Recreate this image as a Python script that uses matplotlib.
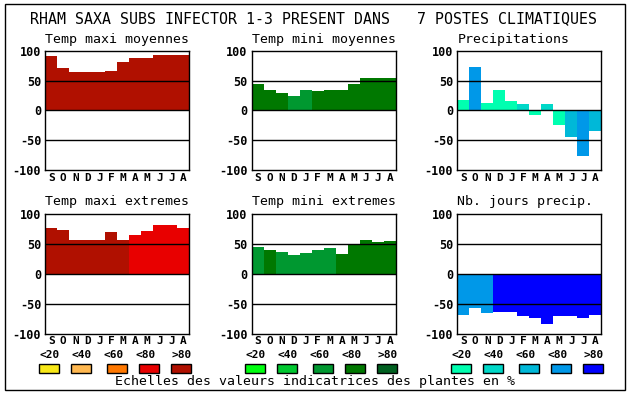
import matplotlib
matplotlib.use("Agg")
import matplotlib.pyplot as plt
from matplotlib.patches import Rectangle

W, H = 630, 394
FONT = "DejaVu Sans Mono"

title = "RHAM SAXA SUBS INFECTOR 1-3 PRESENT DANS   7 POSTES CLIMATIQUES"
months = ["S", "O", "N", "D", "J", "F", "M", "A", "M", "J", "J", "A"]
yticks = [100, 50, 0, -50, -100]
class_labels = ["<20", "<40", "<60", "<80", ">80"]
footer = "Echelles des valeurs indicatrices des plantes en %"

red_scale = ['#F8E818', '#FFB850', '#FF7800', '#E80000', '#B01000']
green_scale = ['#00FF10', '#00C830', '#009830', '#007800', '#006020']
blue_scale = ['#00FFB0', '#00D8C8', '#00B8D8', '#0098E8', '#0000FF']

# panel titles
titles = ["Temp maxi moyennes", "Temp mini moyennes", "Precipitations",
          "Temp maxi extremes", "Temp mini extremes", "Nb. jours precip."]

# values
tmax_moy = [91, 71, 65, 65, 65, 66, 81, 88, 88, 93, 93, 93]
tmax_moy_cls = [4] * 12
tmin_moy = [45, 35, 30, 25, 34, 32, 34, 35, 45, 54, 54, 54]
tmin_moy_cls = [3, 3, 3, 2, 2, 3, 3, 3, 3, 3, 3, 3]
precip = [17, 72, 13, 35, 15, 10, -8, 10, -25, -45, -76, -35]
precip_cls = [0, 3, 0, 0, 0, 1, 0, 1, 0, 2, 3, 2]
tmax_ext = [77, 74, 57, 57, 57, 71, 57, 66, 72, 82, 82, 77]
tmax_ext_cls = [4, 4, 4, 4, 4, 4, 4, 3, 3, 3, 3, 3]
tmin_ext = [46, 41, 37, 32, 36, 41, 44, 34, 49, 57, 54, 56]
tmin_ext_cls = [2, 3, 2, 2, 2, 2, 2, 3, 3, 3, 3, 3]
njours = [-68, -56, -66, -63, -63, -71, -73, -83, -71, -71, -73, -68]
njours_cls = [3, 3, 3, 4, 4, 4, 4, 4, 4, 4, 4, 4]

panels = [
    (tmax_moy, tmax_moy_cls, red_scale),
    (tmin_moy, tmin_moy_cls, green_scale),
    (precip, precip_cls, blue_scale),
    (tmax_ext, tmax_ext_cls, red_scale),
    (tmin_ext, tmin_ext_cls, green_scale),
    (njours, njours_cls, blue_scale),
]

fig = plt.figure(figsize=(W / 100, H / 100), dpi=100)
fig.patch.set_facecolor("white")

def fx(x):
    return x / W

def fy(y):
    return 1 - y / H

# outer frame
fig.patches.append(Rectangle((fx(4.5), fy(390)), fx(625) - fx(4.5), fy(4) - fy(390),
                             transform=fig.transFigure, fill=False, edgecolor="black",
                             linewidth=1.0))

fig.text(fx(30), fy(18.5), title, fontfamily=FONT, fontsize=10.7,
         ha="left", va="center")

col_left = [45.3, 251.7, 457.3]
row_top = [50.7, 214.3]
aw, ah = 144, 119.5
title_y = [39, 202]
month_y = [178, 341.5]

for i, (vals, cls, scale) in enumerate(panels):
    r, c = divmod(i, 3)
    left = col_left[c]
    top = row_top[r]
    ax = fig.add_axes([fx(left), fy(top + ah), aw / W, ah / H])
    xs = list(range(len(vals)))
    ax.bar(xs, vals, width=1.0, align="edge",
           color=[scale[k] for k in cls], linewidth=0, zorder=1)
    for yv in (50, 0, -50):
        ax.axhline(yv, color="black", linewidth=1.0, zorder=3)
    ax.set_xlim(0, 12)
    ax.set_ylim(-100, 100)
    ax.set_yticks(yticks)
    ax.set_yticklabels([str(v) for v in yticks], fontfamily=FONT,
                       fontsize=8.5, fontweight="bold")
    ax.set_xticks([x + 0.5 for x in xs])
    ax.set_xticklabels([])
    ax.tick_params(length=0, pad=3)
    for s in ax.spines.values():
        s.set_linewidth(1.0)
        s.set_color("black")
    # month labels placed via data x coordinates
    for x, m in zip(xs, months):
        ax.text(x + 0.5, fy(month_y[r]), m, transform=ax.get_xaxis_transform() if False else
                matplotlib.transforms.blended_transform_factory(ax.transData, fig.transFigure),
                fontfamily=FONT, fontsize=8, fontweight="bold", ha="center", va="center")
    fig.text(fx(left), fy(title_y[r]), titles[i], fontfamily=FONT, fontsize=9.5,
             ha="left", va="center")

# legends
sw_base = [39, 71, 107, 139, 171]
lab_base = [39.5, 71.5, 103.5, 135.5, 171]
scales = [red_scale, green_scale, blue_scale]
for c, scale in enumerate(scales):
    off = 206 * c
    for k in range(5):
        x0 = sw_base[k] + off
        fig.patches.append(Rectangle((fx(x0), fy(373)), 20 / W, 9 / H,
                                     transform=fig.transFigure, facecolor=scale[k],
                                     edgecolor="black", linewidth=1.0))
        fig.text(fx(lab_base[k] + off), fy(354.5), class_labels[k], fontfamily=FONT,
                 fontsize=8, fontweight="bold", ha="left", va="center")

fig.text(fx(115), fy(382), footer, fontfamily=FONT, fontsize=9.5,
         ha="left", va="center")

fig.savefig("out.png", dpi=100)
